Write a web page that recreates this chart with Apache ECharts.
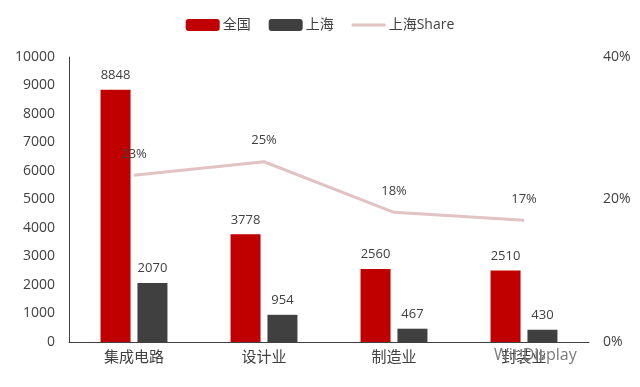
<!DOCTYPE html>
<html>
<head>
<meta charset="utf-8">
<script src="https://cdn.jsdelivr.net/npm/echarts@6/dist/echarts.min.js"></script>
<style>html,body{margin:0;padding:0;background:#fff;}#c{width:640px;height:387px;}</style>
</head>
<body>
<div id="c"></div>
<script>
var categories = ['集成电路', '设计业', '制造业', '封装业'];
var national = [8848, 3778, 2560, 2510];
var shanghai = [2070, 954, 467, 430];
var share = [0.234, 0.253, 0.182, 0.171];
var shareLabels = ['23%', '25%', '18%', '17%'];

var FONT = "'Open Sans', 'Noto Sans CJK SC', sans-serif";
var chart = echarts.init(document.getElementById('c'));
chart.setOption({
  backgroundColor: '#ffffff',
  textStyle: { fontFamily: FONT },
  animation: false,
  legend: {
    top: 13, left: 'center',
    itemWidth: 34, itemHeight: 12, itemGap: 18,
    textStyle: { fontSize: 14, color: '#404040', fontFamily: FONT, padding: [0, 0, 0, -2] },
    data: [
      { name: '全国' },
      { name: '上海' },
      { name: '上海Share', icon: 'path://M0,0H34V3H0Z', itemStyle: { color: '#e2c3c3' } }
    ]
  },
  grid: { left: 69, right: 51, top: 57, bottom: 45 },
  xAxis: {
    type: 'category',
    data: categories,
    axisLine: { lineStyle: { color: '#404040', width: 1 } },
    axisTick: { show: false },
    axisLabel: { fontSize: 15, color: '#404040', margin: 8, fontFamily: FONT }
  },
  yAxis: [
    {
      type: 'value', min: 0, max: 10000, interval: 1000,
      axisLine: { show: true, lineStyle: { color: '#404040', width: 1 } },
      axisTick: { show: false },
      splitLine: { show: false },
      axisLabel: { fontSize: 14, color: '#404040', margin: 14, fontFamily: FONT,
        formatter: function (v) { return String(v); } }
    },
    {
      type: 'value', min: 0, max: 0.4, interval: 0.2,
      axisLine: { show: false },
      axisTick: { show: false },
      splitLine: { show: false },
      axisLabel: {
        fontSize: 14, color: '#404040', margin: 14, fontFamily: FONT,
        formatter: function (v) { return Math.round(v * 100) + '%'; }
      }
    }
  ],
  series: [
    {
      name: '全国', type: 'bar', data: national,
      barWidth: 30, barGap: '23%',
      itemStyle: { color: '#c00000' },
      label: { show: true, position: 'top', distance: 8, fontSize: 13, color: '#404040', fontFamily: FONT }
    },
    {
      name: '上海', type: 'bar', data: shanghai,
      barWidth: 30,
      itemStyle: { color: '#404040' },
      label: { show: true, position: 'top', distance: 8, fontSize: 13, color: '#404040', fontFamily: FONT }
    },
    {
      name: '上海Share', type: 'line', yAxisIndex: 1, data: share,
      symbol: 'circle', symbolSize: 1, showSymbol: true,
      lineStyle: { color: '#e2c3c3', width: 3 },
      itemStyle: { color: '#e2c3c3' },
      label: {
        show: true, position: 'top', distance: 14, fontSize: 13, color: '#404040', fontFamily: FONT,
        formatter: function (p) { return shareLabels[p.dataIndex]; }
      },
      z: 5
    }
  ],
  graphic: [
    {
      type: 'text', left: 494, top: 347,
      style: { text: 'Wit Display', fontSize: 16, fill: '#7a7a7a', fontFamily: FONT },
      z: 10
    }
  ]
});
</script>
</body>
</html>
